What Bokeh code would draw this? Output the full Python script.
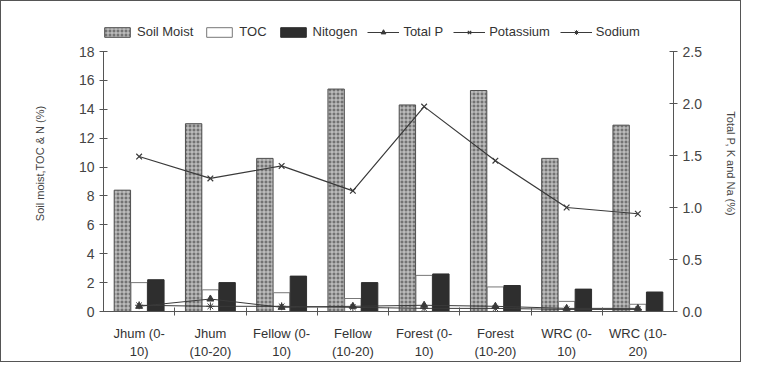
import numpy as np
from bokeh.plotting import figure
from bokeh.models import (Range1d, LinearAxis, FixedTicker, Legend, LegendItem,
                          ColumnDataSource, PrintfTickFormatter)
from bokeh.embed import file_html
from bokeh.resources import INLINE

categories = ["Jhum (0-\n10)", "Jhum\n(10-20)", "Fellow (0-\n10)", "Fellow\n(10-20)",
              "Forest (0-\n10)", "Forest\n(10-20)", "WRC (0-\n10)", "WRC (10-\n20)"]
soil_moist = [8.4, 13.0, 10.6, 15.4, 14.3, 15.3, 10.6, 12.9]
toc = [2.0, 1.5, 1.3, 0.9, 2.5, 1.7, 0.7, 0.5]
nitrogen = [2.2, 2.0, 2.45, 2.0, 2.6, 1.8, 1.55, 1.35]
total_p = [0.05, 0.12, 0.04, 0.05, 0.06, 0.05, 0.03, 0.03]
potassium = [1.49, 1.28, 1.4, 1.16, 1.97, 1.45, 1.0, 0.94]
sodium = [0.06, 0.05, 0.05, 0.04, 0.03, 0.03, 0.02, 0.02]

FONT = "Liberation Sans"
n = len(categories)
centers = np.arange(n) + 0.5
bw = 0.23
LEFT_MAX, RIGHT_MAX = 18, 2.5
head = 296 / 260  # extra room above the axes for the legend

p = figure(width=741, height=362, output_backend="svg", toolbar_location=None,
           x_range=Range1d(0, n), y_range=Range1d(0, LEFT_MAX * head),
           min_border_left=102, min_border_right=69, min_border_top=14, min_border_bottom=52)
p.styles = {"border": "1px solid #555"}
p.outline_line_color = None
p.xgrid.visible = False
p.ygrid.visible = False
p.extra_y_ranges = {"right": Range1d(0, RIGHT_MAX * head)}

src = ColumnDataSource(dict(c=centers, sm=soil_moist, toc=toc, n=nitrogen,
                            tp=total_p, k=potassium, na=sodium))

r_sm = p.vbar(x=centers - 0.235, top=soil_moist, width=bw, fill_color="#737373",
              line_color="#505050", hatch_pattern="cross", hatch_color="#d2d2d2",
              hatch_scale=4, hatch_weight=1)
r_toc = p.vbar(x=centers, top=toc, width=bw, fill_color="white", line_color="#777777",
               line_width=1)
r_n = p.vbar(x=centers + 0.235, top=nitrogen, width=bw, fill_color="#2e2e2e",
             line_color="#2e2e2e")

lc = "#3a3a3a"
l_tp = p.line("c", "tp", source=src, y_range_name="right", line_color=lc, line_width=1)
m_tp = p.scatter("c", "tp", source=src, y_range_name="right", marker="triangle",
                 size=7, fill_color=lc, line_color=lc)
l_k = p.line("c", "k", source=src, y_range_name="right", line_color=lc, line_width=1.2)
m_k = p.scatter("c", "k", source=src, y_range_name="right", marker="x",
                size=8, line_color=lc, line_width=1.2)
l_na = p.line("c", "na", source=src, y_range_name="right", line_color=lc, line_width=1)
m_na = p.scatter("c", "na", source=src, y_range_name="right", marker="asterisk",
                 size=8, line_color=lc, line_width=1)

# left axis
ya = p.yaxis[0]
ya.ticker = FixedTicker(ticks=list(range(0, 19, 2)))
ya.bounds = (0, LEFT_MAX)
ya.axis_label = "Soil moist,TOC & N (%)"
ya.axis_label_text_font = FONT
ya.axis_label_text_font_size = "11px"
ya.axis_label_text_font_style = "normal"
ya.axis_label_text_color = "#444444"
ya.major_label_text_font = FONT
ya.major_label_text_font_size = "14px"
ya.major_label_text_color = "#444444"
ya.major_tick_in = 4
ya.major_tick_out = 4
ya.minor_tick_line_color = None
ya.axis_line_color = "#555555"
ya.major_tick_line_color = "#555555"
ya.axis_label_standoff = 30

# right axis
ra = LinearAxis(y_range_name="right", ticker=FixedTicker(ticks=[0, 0.5, 1.0, 1.5, 2.0, 2.5]),
                formatter=PrintfTickFormatter(format="%.1f"), bounds=(0, RIGHT_MAX))
ra.axis_label = "Total P, K and Na (%)"
ra.axis_label_text_font = FONT
ra.axis_label_text_font_size = "11px"
ra.axis_label_text_font_style = "normal"
ra.axis_label_text_color = "#444444"
ra.major_label_text_font = FONT
ra.major_label_text_font_size = "14px"
ra.major_label_text_color = "#444444"
ra.major_tick_in = 4
ra.major_tick_out = 4
ra.minor_tick_line_color = None
ra.axis_line_color = "#555555"
ra.major_tick_line_color = "#555555"
ra.axis_label_standoff = 20
p.add_layout(ra, "right")

# x axis
xa = p.xaxis[0]
xa.ticker = FixedTicker(ticks=list(centers), minor_ticks=list(range(1, n)))
xa.major_label_overrides = {float(c): lab for c, lab in zip(centers, categories)}
xa.major_tick_line_color = None
xa.minor_tick_in = 4
xa.minor_tick_out = 4
xa.minor_tick_line_color = "#555555"
xa.axis_line_color = "#555555"
xa.major_label_text_font = FONT
xa.major_label_text_font_size = "13px"
xa.major_label_text_color = "#333333"
xa.major_label_standoff = 8

legend = Legend(items=[
    LegendItem(label="Soil Moist", renderers=[r_sm]),
    LegendItem(label="TOC", renderers=[r_toc]),
    LegendItem(label="Nitogen", renderers=[r_n]),
    LegendItem(label="Total P", renderers=[l_tp, m_tp]),
    LegendItem(label="Potassium", renderers=[l_k, m_k]),
    LegendItem(label="Sodium", renderers=[l_na, m_na]),
], orientation="horizontal", location=(-2, 272), border_line_color=None,
    background_fill_alpha=0, label_text_font=FONT, label_text_font_size="13px",
    label_text_color="#333333", glyph_width=32, glyph_height=12, spacing=10,
    label_standoff=4, padding=0, margin=0)
p.add_layout(legend, "center")

open("out.html", "w").write(file_html(p, INLINE))
